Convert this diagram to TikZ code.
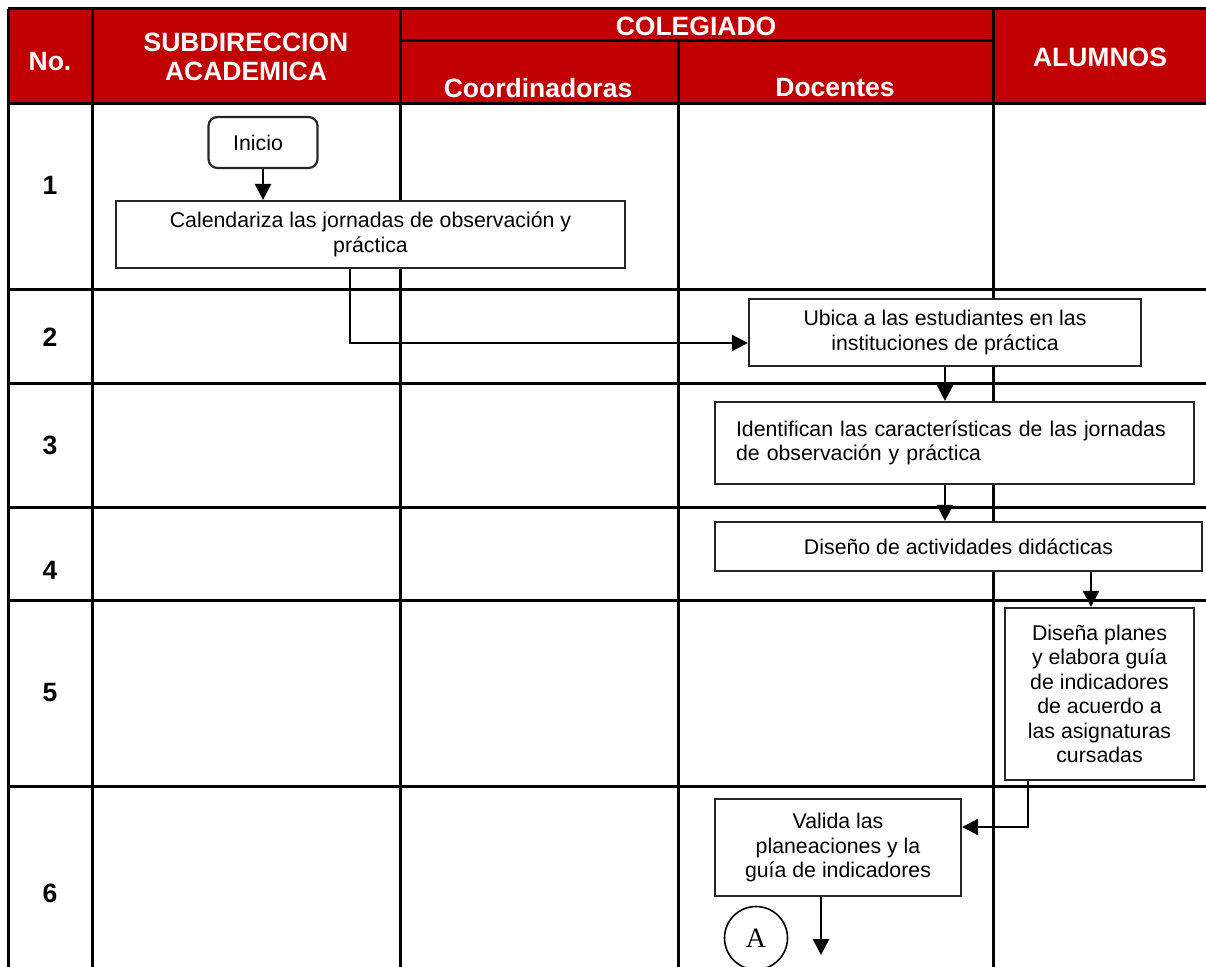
\documentclass[tikz,border=0pt]{standalone}
\usepackage{fontspec}
\setmainfont{Liberation Sans}
\newfontfamily\serifA{Liberation Serif}
\usetikzlibrary{arrows.meta}
\definecolor{hdrred}{RGB}{192,0,0}
\begin{document}
\begin{tikzpicture}[x=1pt,y=-1pt,
  grid/.style={line width=3pt, black},
  box/.style={draw=black!85, line width=2.2pt, fill=white, inner sep=0pt, align=center,
              font=\fontsize{21.3}{24.5}\selectfont},
  arr/.style={line width=2.6pt, -{Triangle[length=16pt 0 0,width=16pt 0 0]}},
  hdr/.style={text=white, font=\bfseries\fontsize{26.5}{28.7}\selectfont, align=center, inner sep=0pt},
  num/.style={font=\bfseries\fontsize{26.5}{28}\selectfont, inner sep=0pt}]
\useasboundingbox (0,0) rectangle (1206,966);
% header background
\fill[hdrred] (8,9) rectangle (1212,103);
% grid
\draw[grid] (8,9) -- (1212,9);
\draw[grid] (8,103) -- (1212,103);
\draw[grid] (400,41) -- (993,41);
\draw[grid] (8,9) -- (8,970);
\draw[grid] (92.7,9) -- (92.7,970);
\draw[grid] (400,9) -- (400,970);
\draw[grid] (678,41) -- (678,970);
\draw[grid] (993,9) -- (993,970);
\foreach \yy in {289,383,507,600,786} \draw[grid] (8,\yy) -- (1212,\yy);
% header labels
\node[hdr] (hno) at (50,62) {No.};
\node[hdr] (hsub) at (246,57) {SUBDIRECCION\\ACADEMICA};
\node[hdr] (hcol) at (696,26) {COLEGIADO};
\node[hdr] (hcoo) at (538,88) {Coordinadoras};
\node[hdr] (hdoc) at (835,88) {Docentes};
\node[hdr] (halu) at (1100,57) {ALUMNOS};
% row numbers
\node[num] (n1) at (50,185) {1};
\node[num] (n2) at (50,337) {2};
\node[num] (n3) at (50,445) {3};
\node[num] (n4) at (50,570) {4};
\node[num] (n5) at (50,693) {5};
\node[num] (n6) at (50,893) {6};
% process boxes
\node[box, rounded corners=9pt, minimum width=109pt, minimum height=51pt] (inicio) at (263,142.5) {\hspace*{-10pt}Inicio};
\node[box, minimum width=509pt, minimum height=67pt] (cal) at (370.5,234.5)
  {Calendariza las jornadas de observación y\\práctica};
\node[box, minimum width=392pt, minimum height=67pt] (ubica) at (945,332.5)
  {Ubica a las estudiantes en las\\instituciones de práctica};
\node[box, minimum width=479pt, minimum height=82pt, text width=437pt, align=left] (ident) at (954.5,443)
  {Identifican las características de las jornadas\\de observación y práctica\vphantom{p}\\[-6pt]};
\node[box, minimum width=487pt, minimum height=49pt] (diseno) at (958.5,546.5)
  {Diseño de actividades didácticas};
\node[box, minimum width=189pt, minimum height=172pt] (disena) at (1099.5,694)
  {Diseña planes\\y elabora guía\\de indicadores\\de acuerdo a\\las asignaturas\\cursadas};
\node[box, minimum width=246pt, minimum height=97pt] (valida) at (838,847.5)
  {Valida las\\planeaciones y la\\guía de indicadores};
\node[draw=black, line width=1.6pt, circle, minimum size=63pt, inner sep=0pt,
      font=\serifA\fontsize{28}{28}\selectfont] (conA) at (756,938) {A};
\coordinate (vend) at (821,955);
% connectors
\draw[arr] (inicio.south) -- (inicio.south |- cal.north);
\draw[arr] ([xshift=-20.5pt]cal.south) |- ([yshift=-10.5pt]ubica.west);
\draw[arr] (ubica.south) -- (ubica.south |- ident.north);
\draw[arr] (ubica.south |- ident.south) -- (ubica.south |- diseno.north);
\draw[arr] ([xshift=-8.5pt]disena.north |- diseno.south) -- ([xshift=-8.5pt]disena.north);
\draw[arr] ([xshift=-71.5pt]disena.south) |- ([yshift=20.5pt]valida.east);
\draw[arr] (valida.south -| vend) -- (vend);
\end{tikzpicture}
\end{document}
